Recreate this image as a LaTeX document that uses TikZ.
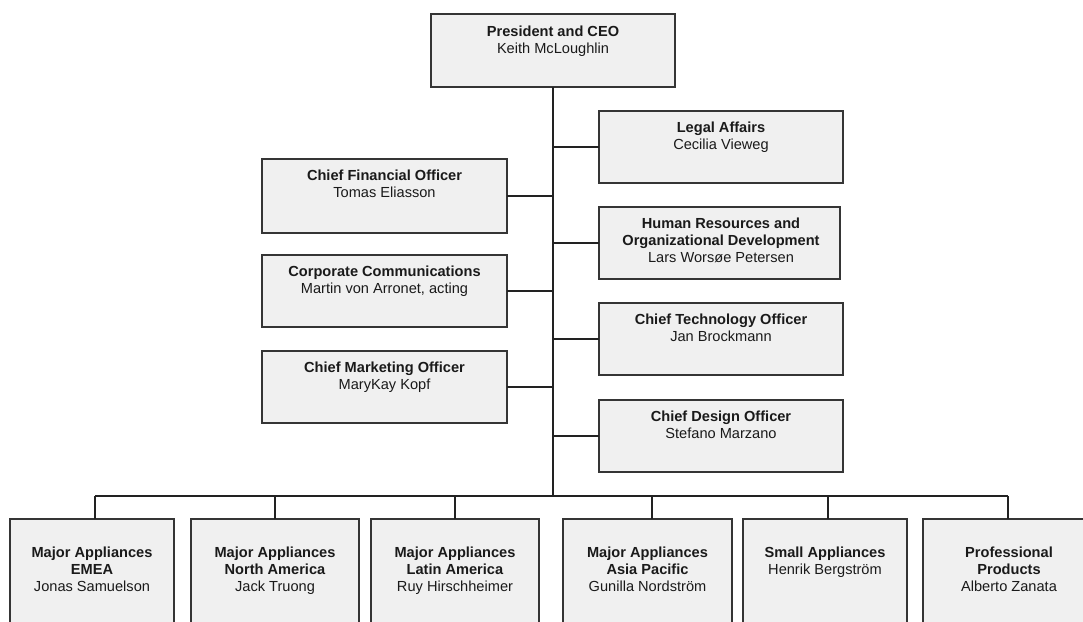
\documentclass[tikz,border=0pt]{standalone}
\usepackage{fontspec}
\setmainfont{Liberation Sans}
\begin{document}
\begin{tikzpicture}[x=1pt,y=-1pt,
  box/.style={draw=boxline, fill=boxfill, line width=1.4pt, inner sep=0pt, outer sep=0pt, anchor=north west},
  txt/.style={anchor=north, inner sep=0pt, align=center, text=textcol,
    font=\fontsize{14.6}{17}\selectfont, execute at begin node=\strut},
  link/.style={draw=linecol, line width=1.5pt}]
\definecolor{boxline}{HTML}{353535}
\definecolor{boxfill}{HTML}{F0F0F0}
\definecolor{linecol}{HTML}{222222}
\definecolor{textcol}{HTML}{1A1A1A}
\useasboundingbox (0,0) rectangle (1083,621);
\clip (0,0) rectangle (1083,621);

% top of the chart
\node[box, minimum width=244, minimum height=73] (ceo) at (431,14) {};
\node[txt] (ceot) at ([yshift=-11.4]ceo.north) {\textbf{President and CEO}\\Keith McLoughlin};

% staff functions, left column
\node[box, minimum width=245, minimum height=74] (cfo) at (262,159) {};
\node[box, minimum width=245, minimum height=72] (comm) at (262,255) {};
\node[box, minimum width=245, minimum height=72] (cmo) at (262,351) {};
\node[txt] (cfot) at ([yshift=-10.4]cfo.north) {\textbf{Chief Financial Officer}\\Tomas Eliasson};
\node[txt] (commt) at ([yshift=-10.4]comm.north) {\textbf{Corporate Communications}\\Martin von Arronet, acting};
\node[txt] (cmot) at ([yshift=-10.4]cmo.north) {\textbf{Chief Marketing Officer}\\MaryKay Kopf};

% staff functions, right column
\node[box, minimum width=244, minimum height=72] (legal) at (599,111) {};
\node[box, minimum width=241, minimum height=72] (hr) at (599,207) {};
\node[box, minimum width=244, minimum height=72] (cto) at (599,303) {};
\node[box, minimum width=244, minimum height=72] (cdo) at (599,400) {};
\node[txt] (legalt) at ([yshift=-10.4]legal.north) {\textbf{Legal Affairs}\\Cecilia Vieweg};
\node[txt] (hrt) at ([yshift=-10.4,xshift=1.5]hr.north) {\textbf{Human Resources and}\\\textbf{Organizational Development}\\Lars Worsøe Petersen};
\node[txt] (ctot) at ([yshift=-10.4]cto.north) {\textbf{Chief Technology Officer}\\Jan Brockmann};
\node[txt] (cdot) at ([yshift=-10.4]cdo.north) {\textbf{Chief Design Officer}\\Stefano Marzano};

% business areas
\node[box, minimum width=164, minimum height=110] (b1) at (10,519) {};
\node[box, minimum width=168, minimum height=110] (b2) at (191,519) {};
\node[box, minimum width=168, minimum height=110] (b3) at (371,519) {};
\node[box, minimum width=169, minimum height=110] (b4) at (563,519) {};
\node[box, minimum width=164, minimum height=110] (b5) at (743,519) {};
\node[box, minimum width=180, minimum height=110] (b6) at (923,519) {};
\node[txt] (b1t) at ([yshift=-27.8]b1.north) {\textbf{Major Appliances}\\\textbf{EMEA}\\Jonas Samuelson};
\node[txt] (b2t) at ([yshift=-27.8]b2.north) {\textbf{Major Appliances}\\\textbf{North America}\\Jack Truong};
\node[txt] (b3t) at ([yshift=-27.8]b3.north) {\textbf{Major Appliances}\\\textbf{Latin America}\\Ruy Hirschheimer};
\node[txt] (b4t) at ([yshift=-27.8]b4.north) {\textbf{Major Appliances}\\\textbf{Asia Pacific}\\Gunilla Nordström};
\node[txt] (b5t) at ([yshift=-27.8]b5.north) {\textbf{Small Appliances}\\Henrik Bergström};
\node[txt] (b6t) at ([yshift=-27.8,xshift=-4]b6.north) {\textbf{Professional}\\\textbf{Products}\\Alberto Zanata};

% connectors
\coordinate (bus) at (553,496);
\coordinate (d1) at ([xshift=3]b1.north);
\coordinate (d2) at (b2.north);
\coordinate (d3) at (b3.north);
\coordinate (d4) at ([xshift=4.5]b4.north);
\coordinate (d5) at ([xshift=3]b5.north);
\coordinate (d6) at ([xshift=-5]b6.north);
\draw[link] (ceo.south) -- (bus);
\foreach \n in {cfo,comm,cmo}
  \draw[link] (\n.east) -- (\n.east -| bus);
\foreach \n in {legal,hr,cto,cdo}
  \draw[link] (\n.west) -- (\n.west -| bus);
\draw[link] (d1 |- bus) -- (d6 |- bus);
\foreach \n in {1,...,6}
  \draw[link] (d\n) -- (d\n |- bus);
\end{tikzpicture}
\end{document}
